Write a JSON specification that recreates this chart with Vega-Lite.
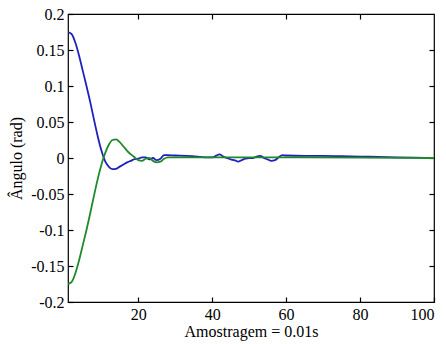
{
  "$schema": "https://vega.github.io/schema/vega-lite/v6.json",
  "width": 366,
  "height": 288,
  "autosize": {"type": "none"},
  "padding": {"left": 68, "top": 14, "right": 12, "bottom": 42},
  "background": "white",
  "config": {
    "view": {"stroke": "black", "strokeWidth": 1.2},
    "font": "Liberation Serif",
    "axis": {
      "labelFont": "Liberation Serif",
      "titleFont": "Liberation Serif",
      "labelFontSize": 16,
      "titleFontSize": 16,
      "titleFontWeight": "normal",
      "labelColor": "black",
      "titleColor": "black",
      "domainColor": "black",
      "tickColor": "black",
      "grid": false
    }
  },
  "datasets": {
    "angles": [
      {"x": 1, "v": 0.175, "s": "blue"},
      {"x": 2, "v": 0.172, "s": "blue"},
      {"x": 3, "v": 0.160, "s": "blue"},
      {"x": 4, "v": 0.142, "s": "blue"},
      {"x": 5, "v": 0.121, "s": "blue"},
      {"x": 6, "v": 0.100, "s": "blue"},
      {"x": 7, "v": 0.078, "s": "blue"},
      {"x": 8, "v": 0.054, "s": "blue"},
      {"x": 9, "v": 0.031, "s": "blue"},
      {"x": 10, "v": 0.011, "s": "blue"},
      {"x": 11, "v": -0.004, "s": "blue"},
      {"x": 12, "v": -0.012, "s": "blue"},
      {"x": 13, "v": -0.0155, "s": "blue"},
      {"x": 14, "v": -0.015, "s": "blue"},
      {"x": 15, "v": -0.012, "s": "blue"},
      {"x": 16, "v": -0.009, "s": "blue"},
      {"x": 17, "v": -0.006, "s": "blue"},
      {"x": 18, "v": -0.004, "s": "blue"},
      {"x": 19, "v": -0.0015, "s": "blue"},
      {"x": 20, "v": -0.001, "s": "blue"},
      {"x": 21, "v": 0.001, "s": "blue"},
      {"x": 22, "v": 0.001, "s": "blue"},
      {"x": 23, "v": -0.002, "s": "blue"},
      {"x": 24, "v": 0.0, "s": "blue"},
      {"x": 25, "v": -0.003, "s": "blue"},
      {"x": 26, "v": -0.001, "s": "blue"},
      {"x": 27, "v": 0.004, "s": "blue"},
      {"x": 28, "v": 0.004, "s": "blue"},
      {"x": 30, "v": 0.0035, "s": "blue"},
      {"x": 33, "v": 0.003, "s": "blue"},
      {"x": 36, "v": 0.002, "s": "blue"},
      {"x": 38, "v": 0.001, "s": "blue"},
      {"x": 40, "v": 0.001, "s": "blue"},
      {"x": 41, "v": 0.003, "s": "blue"},
      {"x": 42, "v": 0.005, "s": "blue"},
      {"x": 43, "v": 0.002, "s": "blue"},
      {"x": 44, "v": 0.0, "s": "blue"},
      {"x": 45, "v": -0.002, "s": "blue"},
      {"x": 46, "v": -0.003, "s": "blue"},
      {"x": 47, "v": -0.005, "s": "blue"},
      {"x": 48, "v": -0.003, "s": "blue"},
      {"x": 49, "v": -0.001, "s": "blue"},
      {"x": 50, "v": 0.0, "s": "blue"},
      {"x": 51, "v": 0.0, "s": "blue"},
      {"x": 52, "v": 0.002, "s": "blue"},
      {"x": 53, "v": 0.003, "s": "blue"},
      {"x": 54, "v": 0.0, "s": "blue"},
      {"x": 55, "v": -0.002, "s": "blue"},
      {"x": 56, "v": -0.004, "s": "blue"},
      {"x": 57, "v": -0.003, "s": "blue"},
      {"x": 58, "v": 0.001, "s": "blue"},
      {"x": 59, "v": 0.004, "s": "blue"},
      {"x": 60, "v": 0.0035, "s": "blue"},
      {"x": 65, "v": 0.003, "s": "blue"},
      {"x": 70, "v": 0.003, "s": "blue"},
      {"x": 75, "v": 0.0025, "s": "blue"},
      {"x": 80, "v": 0.002, "s": "blue"},
      {"x": 85, "v": 0.0015, "s": "blue"},
      {"x": 90, "v": 0.001, "s": "blue"},
      {"x": 95, "v": 0.0005, "s": "blue"},
      {"x": 100, "v": 0.0, "s": "blue"},
      {"x": 1, "v": -0.175, "s": "green"},
      {"x": 2, "v": -0.172, "s": "green"},
      {"x": 3, "v": -0.160, "s": "green"},
      {"x": 4, "v": -0.142, "s": "green"},
      {"x": 5, "v": -0.121, "s": "green"},
      {"x": 6, "v": -0.100, "s": "green"},
      {"x": 7, "v": -0.077, "s": "green"},
      {"x": 8, "v": -0.053, "s": "green"},
      {"x": 9, "v": -0.030, "s": "green"},
      {"x": 10, "v": -0.010, "s": "green"},
      {"x": 11, "v": 0.006, "s": "green"},
      {"x": 12, "v": 0.018, "s": "green"},
      {"x": 13, "v": 0.025, "s": "green"},
      {"x": 14, "v": 0.026, "s": "green"},
      {"x": 15, "v": 0.022, "s": "green"},
      {"x": 16, "v": 0.016, "s": "green"},
      {"x": 17, "v": 0.010, "s": "green"},
      {"x": 18, "v": 0.005, "s": "green"},
      {"x": 19, "v": 0.001, "s": "green"},
      {"x": 20, "v": -0.003, "s": "green"},
      {"x": 21, "v": -0.004, "s": "green"},
      {"x": 22, "v": -0.001, "s": "green"},
      {"x": 23, "v": 0.0, "s": "green"},
      {"x": 24, "v": -0.004, "s": "green"},
      {"x": 25, "v": -0.006, "s": "green"},
      {"x": 26, "v": -0.005, "s": "green"},
      {"x": 27, "v": -0.001, "s": "green"},
      {"x": 28, "v": 0.001, "s": "green"},
      {"x": 30, "v": 0.001, "s": "green"},
      {"x": 40, "v": 0.001, "s": "green"},
      {"x": 60, "v": 0.001, "s": "green"},
      {"x": 80, "v": 0.0005, "s": "green"},
      {"x": 100, "v": 0.0, "s": "green"}
    ]
  },
  "data": {"name": "angles"},
  "layer": [
    {
      "transform": [{"filter": "datum.s === 'blue'"}],
      "mark": {"type": "line", "color": "#1d22bd", "strokeWidth": 1.8, "interpolate": "monotone", "clip": true},
      "encoding": {
        "x": {
          "field": "x", "type": "quantitative",
          "scale": {"domain": [1, 100], "nice": false, "zero": false},
          "axis": {
            "orient": "bottom", "values": [20, 40, 60, 80, 100], "format": "d",
            "tickSize": -5, "tickWidth": 1.2, "labelPadding": 9, "domain": false,
            "title": "Amostragem = 0.01s", "titlePadding": 1
          }
        },
        "y": {
          "field": "v", "type": "quantitative",
          "scale": {"domain": [-0.2, 0.2], "nice": false, "zero": false},
          "axis": {
            "orient": "left",
            "values": [-0.2, -0.15, -0.1, -0.05, 0, 0.05, 0.1, 0.15, 0.2],
            "labelExpr": "datum.value == 0 ? '0' : replace(format(datum.value, '.2~f'), '\u2212', '-')",
            "tickSize": -5, "tickWidth": 1.2, "labelPadding": 9, "domain": false,
            "title": "Ângulo (rad)", "titlePadding": 6
          }
        }
      }
    },
    {
      "transform": [{"filter": "datum.s === 'green'"}],
      "mark": {"type": "line", "color": "#1f8a2a", "strokeWidth": 1.8, "interpolate": "monotone", "clip": true},
      "encoding": {
        "x": {
          "field": "x", "type": "quantitative",
          "axis": {
            "orient": "top", "values": [20, 40, 60, 80], "labels": false,
            "tickSize": -5, "tickWidth": 1.2, "domain": false, "title": null
          }
        },
        "y": {
          "field": "v", "type": "quantitative",
          "axis": {
            "orient": "right", "values": [-0.15, -0.1, -0.05, 0, 0.05, 0.1, 0.15],
            "labels": false, "tickSize": -5, "tickWidth": 1.2, "domain": false, "title": null
          }
        }
      }
    }
  ],
  "resolve": {"axis": {"x": "independent", "y": "independent"}}
}
